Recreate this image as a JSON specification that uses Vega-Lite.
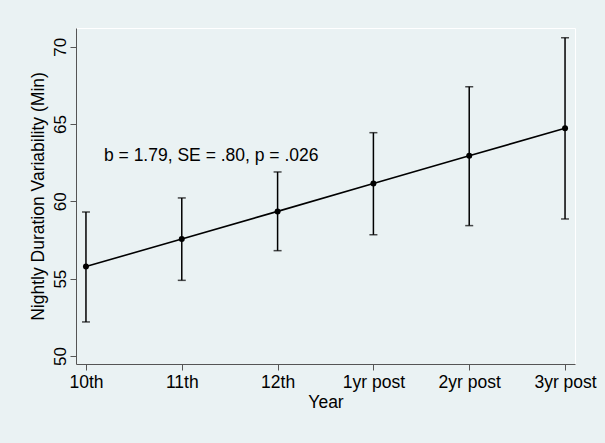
{
  "$schema": "https://vega.github.io/schema/vega-lite/v6.json",
  "width": 499,
  "height": 336,
  "autosize": {"type": "none"},
  "padding": {"left": 76, "top": 28, "right": 30, "bottom": 79},
  "background": "#eaf2f3",
  "config": {
    "view": {"fill": "#eaf2f3", "stroke": "#ffffff", "strokeWidth": 1},
    "font": "Liberation Sans",
    "axis": {
      "grid": false,
      "domainColor": "#555555",
      "tickColor": "#555555",
      "labelColor": "#000000",
      "titleColor": "#000000",
      "titleFontWeight": "normal",
      "tickSize": 6
    }
  },
  "data": {
    "values": [
      {"year": "10th", "mean": 55.78, "lower": 52.20, "upper": 59.31},
      {"year": "11th", "mean": 57.57, "lower": 54.89, "upper": 60.22},
      {"year": "12th", "mean": 59.35, "lower": 56.81, "upper": 61.90},
      {"year": "1yr post", "mean": 61.16, "lower": 57.84, "upper": 64.44},
      {"year": "2yr post", "mean": 62.95, "lower": 58.43, "upper": 67.41},
      {"year": "3yr post", "mean": 64.72, "lower": 58.86, "upper": 70.58}
    ]
  },
  "encoding": {
    "x": {
      "field": "year",
      "type": "ordinal",
      "sort": null,
      "scale": {"type": "point", "padding": 0.104},
      "axis": {
        "title": "Year",
        "labelAngle": 0,
        "labelFontSize": 17.5,
        "titleFontSize": 17.5,
        "labelPadding": 3,
        "titlePadding": 3
      }
    }
  },
  "layer": [
    {
      "mark": {"type": "rule", "color": "#000000", "strokeWidth": 1.5},
      "encoding": {
        "y": {
          "field": "lower",
          "type": "quantitative",
          "scale": {"domain": [49.48, 71.21], "nice": false, "zero": false},
          "axis": {
            "title": "Nightly Duration Variability (Min)",
            "values": [50, 55, 60, 65, 70],
            "labelAngle": -90,
            "labelAlign": "center",
            "labelBaseline": "alphabetic",
            "labelFontSize": 17,
            "titleFontSize": 17.5,
            "labelPadding": 5,
            "titlePadding": 4
          }
        },
        "y2": {"field": "upper"}
      }
    },
    {
      "mark": {"type": "tick", "color": "#000000", "thickness": 1.5, "size": 8},
      "encoding": {"y": {"field": "lower", "type": "quantitative"}}
    },
    {
      "mark": {"type": "tick", "color": "#000000", "thickness": 1.5, "size": 8},
      "encoding": {"y": {"field": "upper", "type": "quantitative"}}
    },
    {
      "mark": {"type": "line", "color": "#000000", "strokeWidth": 1.6},
      "encoding": {"y": {"field": "mean", "type": "quantitative"}}
    },
    {
      "mark": {"type": "point", "filled": true, "color": "#000000", "opacity": 1, "size": 36},
      "encoding": {"y": {"field": "mean", "type": "quantitative"}}
    },
    {
      "data": {"values": [{"year": "10th", "y": 62.63, "label": "b = 1.79, SE = .80, p = .026"}]},
      "mark": {"type": "text", "align": "left", "baseline": "alphabetic", "dx": 18, "fontSize": 17.5, "color": "#000000"},
      "encoding": {
        "y": {"field": "y", "type": "quantitative"},
        "text": {"field": "label"}
      }
    }
  ]
}
